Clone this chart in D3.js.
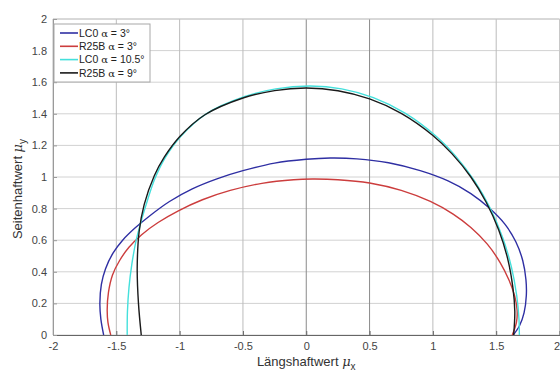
<!DOCTYPE html>
<html>
<head>
<meta charset="utf-8">
<script src="https://cdn.jsdelivr.net/npm/d3@7"></script>
<style>
  html, body { margin: 0; padding: 0; background: #fff; overflow: hidden; }
  svg { display: block; font-family: "Liberation Sans", Arial, sans-serif; }
</style>
</head>
<body>
<div id="chart"></div>
<script>
// Punkte (mu_x, mu_y)
const lc0_3 = [
  [-1.60, 0], [-1.622, 0.1], [-1.63, 0.2], [-1.618, 0.32], [-1.585, 0.42], [-1.525, 0.52],
  [-1.45, 0.6], [-1.355, 0.675], [-1.235, 0.755], [-1.08, 0.845], [-0.90, 0.925],
  [-0.70, 0.99], [-0.5, 1.04], [-0.25, 1.088], [0.0, 1.112], [0.19, 1.12], [0.4, 1.115],
  [0.65, 1.09], [0.9, 1.04], [1.12, 0.975], [1.3, 0.895], [1.45, 0.80], [1.57, 0.70],
  [1.655, 0.59], [1.71, 0.47], [1.735, 0.35], [1.738, 0.25], [1.72, 0.14], [1.685, 0.06],
  [1.635, 0]
];
const r25b_3 = [
  [-1.544, 0], [-1.566, 0.08], [-1.572, 0.16], [-1.562, 0.27], [-1.53, 0.38], [-1.475, 0.47],
  [-1.40, 0.555], [-1.30, 0.635], [-1.17, 0.712], [-1.01, 0.786], [-0.82, 0.856], [-0.6, 0.915],
  [-0.35, 0.96], [-0.1, 0.983], [0.05, 0.987], [0.25, 0.983], [0.5, 0.962], [0.75, 0.915],
  [0.98, 0.845], [1.16, 0.765], [1.3, 0.68], [1.43, 0.575], [1.53, 0.46], [1.6, 0.35],
  [1.645, 0.25], [1.665, 0.16], [1.66, 0.08], [1.627, 0]
];
const lc0_105 = [
  [-1.414, 0], [-1.412, 0.15], [-1.40, 0.3], [-1.377, 0.45], [-1.343, 0.6], [-1.30, 0.73],
  [-1.255, 0.85], [-1.195, 0.99], [-1.11, 1.127], [-0.99, 1.258], [-0.79, 1.40],
  [-0.49, 1.508], [-0.24, 1.558], [0.03, 1.576], [0.28, 1.558], [0.53, 1.502], [0.78, 1.404],
  [1.03, 1.255], [1.18, 1.132], [1.33, 0.974], [1.45, 0.807], [1.55, 0.619], [1.62, 0.431],
  [1.662, 0.25], [1.68, 0.1], [1.683, 0]
];
const r25b_9 = [
  [-1.303, 0], [-1.325, 0.2], [-1.335, 0.42], [-1.32, 0.652], [-1.28, 0.825], [-1.2, 1.008],
  [-1.12, 1.127], [-1.0, 1.255], [-0.8, 1.394], [-0.5, 1.50], [-0.25, 1.547], [0.0, 1.563],
  [0.25, 1.546], [0.5, 1.494], [0.75, 1.403], [1.0, 1.263], [1.15, 1.148], [1.3, 1.0],
  [1.42, 0.842], [1.52, 0.665], [1.59, 0.485], [1.632, 0.3], [1.647, 0.15], [1.638, 0]
];

const seriesNames = ["LC0", "R25B", "LC0", "R25B"];
const seriesAlpha = ["3°", "3°", "10.5°", "9°"];
const seriesColors = ["#2f2fa3", "#cc3d3d", "#44e0dc", "#1a1a1a"];
const seriesData = [lc0_3, r25b_3, lc0_105, r25b_9];

const xTicks = [-2, -1.5, -1, -0.5, 0, 0.5, 1, 1.5, 2];
const yTicks = [0, 0.2, 0.4, 0.6, 0.8, 1, 1.2, 1.4, 1.6, 1.8, 2];

const width = 560, height = 371;
const margin = {top: 19, right: 0.5, bottom: 36, left: 53};

const svg = d3.select("#chart").append("svg")
    .attr("width", width)
    .attr("height", height);

const x = d3.scaleLinear().domain([-2, 2]).range([margin.left, width - margin.right]);
const y = d3.scaleLinear().domain([0, 2]).range([height - margin.bottom, margin.top]);

// Gitter
svg.append("g").selectAll("line").data(yTicks).join("line")
    .attr("x1", x(-2)).attr("x2", x(2))
    .attr("y1", d => y(d)).attr("y2", d => y(d))
    .attr("stroke", "#d2d2d2").attr("stroke-width", 1);

svg.append("g").selectAll("line").data(xTicks).join("line")
    .attr("x1", d => x(d)).attr("x2", d => x(d))
    .attr("y1", y(0)).attr("y2", y(2))
    .attr("stroke", d => (d === 0 || d === 0.5) ? "#8a8a8a" : "#bcbcbc")
    .attr("stroke-width", 1);

// Rahmen
svg.append("line").attr("x1", x(-2)).attr("x2", x(2)).attr("y1", y(2)).attr("y2", y(2))
    .attr("stroke", "#c8c8c8");
svg.append("line").attr("x1", x(2)).attr("x2", x(2)).attr("y1", y(0)).attr("y2", y(2))
    .attr("stroke", "#c8c8c8");

// Achsen
const xAxis = svg.append("g")
    .attr("transform", `translate(0,${y(0)})`)
    .call(d3.axisBottom(x).tickValues(xTicks).tickFormat(d => String(d)).tickSizeInner(-4).tickSizeOuter(0).tickPadding(7));
xAxis.select(".domain").attr("stroke", "#666");
xAxis.selectAll(".tick line").attr("stroke", "#666");
xAxis.selectAll("text").attr("fill", "#444").style("font-size", "11px")
    .style("font-family", "'Liberation Sans', Arial, sans-serif")
    .attr("text-anchor", d => d === 2 ? "end" : "middle");

const yAxis = svg.append("g")
    .attr("transform", `translate(${x(-2)},0)`)
    .call(d3.axisLeft(y).tickValues(yTicks).tickFormat(d => String(d)).tickSizeInner(-4).tickSizeOuter(0).tickPadding(6));
yAxis.select(".domain").attr("stroke", "#9a9a9a");
yAxis.selectAll(".tick line").attr("stroke", "#9a9a9a");
yAxis.selectAll("text").attr("fill", "#444").style("font-size", "11px")
    .style("font-family", "'Liberation Sans', Arial, sans-serif");

// Achsenbeschriftungen
const xl = svg.append("text")
    .attr("x", x(0)).attr("y", 366)
    .attr("text-anchor", "middle")
    .attr("fill", "#333").style("font-size", "13px");
xl.append("tspan").text("Längshaftwert ");
xl.append("tspan").text("μ").style("font-style", "italic").style("font-family", "'DejaVu Serif', serif");
xl.append("tspan").text("x").attr("dy", 4).style("font-size", "10px");

const yl = svg.append("text")
    .attr("transform", `translate(22,${(y(0) + y(2)) / 2 + 12}) rotate(-90)`)
    .attr("text-anchor", "middle")
    .attr("fill", "#333").style("font-size", "13px");
yl.append("tspan").text("Seitenhaftwert ");
yl.append("tspan").text("μ").style("font-style", "italic").style("font-family", "'DejaVu Serif', serif");
yl.append("tspan").text("y").attr("dy", 4).style("font-size", "10px");

// Kurven
svg.append("clipPath").attr("id", "clip")
    .append("rect")
    .attr("x", x(-2)).attr("y", y(2))
    .attr("width", x(2) - x(-2)).attr("height", y(0) - y(2));

const line = d3.line()
    .x(d => x(d[0])).y(d => y(d[1]))
    .curve(d3.curveCatmullRom.alpha(0.5));

svg.append("g").attr("clip-path", "url(#clip)")
    .selectAll("path").data(seriesData).join("path")
    .attr("d", line)
    .attr("fill", "none")
    .attr("stroke", (d, i) => seriesColors[i])
    .attr("stroke-width", 1.4);

// Legende
const legend = svg.append("g").attr("transform", "translate(54,24)");
legend.append("rect")
    .attr("width", 96).attr("height", 58)
    .attr("fill", "#fff").attr("stroke", "#a8a8a8").attr("stroke-width", 1);

const rows = legend.selectAll("g.row").data(seriesNames).join("g")
    .attr("class", "row")
    .attr("transform", (d, i) => `translate(0,${9 + i * 13.3})`);
rows.append("line")
    .attr("x1", 6).attr("x2", 24)
    .attr("stroke", (d, i) => seriesColors[i]).attr("stroke-width", 1.6);
const lt = rows.append("text")
    .attr("x", 25).attr("dy", "0.35em")
    .attr("fill", "#222").style("font-size", "10.5px");
lt.append("tspan").text(d => d + " ");
lt.append("tspan").text("α").style("font-family", "'DejaVu Serif', serif").style("font-size", "10px");
lt.append("tspan").text((d, i) => " = " + seriesAlpha[i]);
</script>
</body>
</html>
